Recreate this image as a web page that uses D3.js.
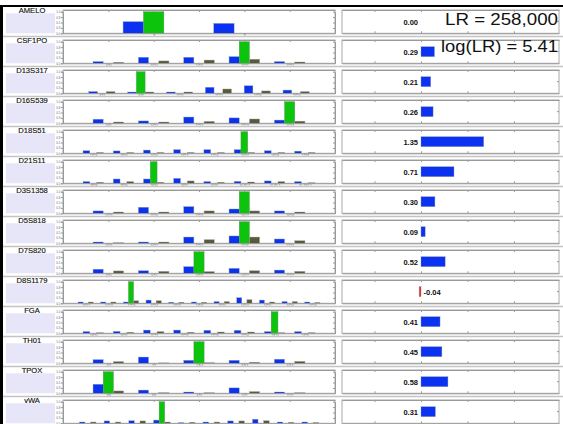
<!DOCTYPE html>
<html>
<head>
<meta charset="utf-8">
<script src="https://cdn.jsdelivr.net/npm/d3@7"></script>
<style>
  body { margin: 0; background: #fff; }
  svg { display: block; font-family: "Liberation Sans", Arial, sans-serif; }
  .tiny text { font-size: 3px; fill: #666; }
  .tiny path, .tiny line { stroke: #999; }
  .noLab text { display: none; }
  .noLab path, .noLab line { stroke: #999; }
</style>
</head>
<body>
<svg id="svg" width="563" height="424"></svg>
<script>
const loci = ["AMELO", "CSF1PO", "D13S317", "D16S539", "D18S51", "D21S11", "D3S1358",
  "D5S818", "D7S820", "D8S1179", "FGA", "TH01", "TPOX", "vWA"];

const alleleLabels = [
  ["X", "Y"],
  ["9,10", "10,10", "10,11", "11,12", "12,12"],
  ["8,11", "9,11", "11,11", "11,12", "12,13", "12,14"],
  ["9,11", "10,11", "11,12", "12,13", "11,13"],
  ["13,14", "13,15", "14,16", "14,17", "15,16", "15,17", "16,18", "17,18"],
  ["28,29", "28,30", "29,30", "29,31", "30,31", "30,32.2", "31,32.2", "31.2,32.2"],
  ["14,15", "15,16", "15,17", "16,17", "16,18"],
  ["10,11", "10,12", "11,12", "11,13", "12,13"],
  ["8,10", "9,10", "10,11", "10,12", "11,12"],
  ["10,12", "10,13", "12,13", "12,14", "13,13", "13,14", "13,15", "14,14", "14,15", "14,16", "15,16"],
  ["19,20", "20,21", "21,22", "21,23", "22,23", "22,24", "23,24", "24,25"],
  ["6,7", "7,7", "7,9.3", "8,9.3", "9,9.3"],
  ["8,8", "8,9", "8,11", "9,11", "11,11"],
  ["14,16", "15,16", "15,17", "16,17", "16,18", "17,17", "17,18", "17,19", "18,18", "18,19"]
];

// posterior (blue) and prior (olive) genotype probabilities
const posterior = [
  [0.54, 0.46],
  [0.08, 0.28, 0.28, 0.31, 0.08],
  [0.08, 0.06, 0.06, 0.28, 0.35, 0.15],
  [0.19, 0.11, 0.29, 0.25, 0.15],
  [0.12, 0.11, 0.15, 0.17, 0.17, 0.17, 0.12, 0.10],
  [0.08, 0.20, 0.20, 0.23, 0.08, 0.09, 0.11, 0.08],
  [0.11, 0.28, 0.31, 0.20, 0.11],
  [0.06, 0.06, 0.29, 0.34, 0.20],
  [0.19, 0.12, 0.31, 0.23, 0.15],
  [0.06, 0.06, 0.06, 0.15, 0.05, 0.06, 0.08, 0.26, 0.15, 0.08, 0.06],
  [0.08, 0.09, 0.15, 0.15, 0.14, 0.14, 0.08, 0.08],
  [0.17, 0.29, 0.14, 0.14, 0.19],
  [0.42, 0.15, 0.06, 0.25, 0.06],
  [0.06, 0.11, 0.12, 0.15, 0.03, 0.06, 0.11, 0.19, 0.06, 0.06]
];
const prior = [
  [0, 0],
  [0.05, 0.11, 0.15, 0.19, 0.06],
  [0.08, 0.06, 0.06, 0.20, 0.11, 0.08],
  [0.06, 0.06, 0.09, 0.20, 0.10],
  [0.04, 0.04, 0.04, 0.04, 0.04, 0.04, 0.04, 0.04],
  [0.05, 0.08, 0.05, 0.11, 0.05, 0.06, 0.08, 0.03],
  [0.06, 0.06, 0.11, 0.11, 0.06],
  [0.03, 0.06, 0.17, 0.29, 0.12],
  [0.11, 0.09, 0.08, 0.12, 0.09],
  [0.06, 0.06, 0.12, 0.12, 0.05, 0.05, 0.08, 0.17, 0.06, 0.08, 0.04],
  [0.03, 0.05, 0.08, 0.05, 0.06, 0.06, 0.03, 0.03],
  [0.08, 0.02, 0.03, 0.05, 0.09],
  [0.11, 0.03, 0.03, 0.08, 0.03],
  [0.06, 0.06, 0.11, 0.06, 0.05, 0.06, 0.11, 0.12, 0.05, 0.04]
];
// index of the suspect genotype (green, probability 1)
const suspect = [0, 3, 1, 4, 5, 2, 3, 3, 2, 2, 6, 2, 0, 3];

const logLR = [0.00, 0.29, 0.21, 0.26, 1.35, 0.71, 0.30, 0.09, 0.52, -0.04, 0.41, 0.45, 0.58, 0.31];
const totalText = ["LR = 258,000", "log(LR) = 5.41"];

const W = 563, H = 424,
    top0 = 10, pitch = 30, ph = 23.3,
    lx0 = 63, lx1 = 335,
    rx = d3.scaleLinear().domain([-1.7, 2.97]).range([342, 559]);

const svg = d3.select("#svg");

loci.forEach(function (name, i) {
  const t = top0 + pitch * i,
      n = alleleLabels[i].length,
      x = d3.scaleLinear().domain([0, n + 1]).range([lx0, lx1]),
      y = d3.scaleLinear().domain([0, 1]).range([t + ph, t + 1.7]),
      bw = 0.225 * (x(1) - x(0));

  if (i > 0) {
    svg.append("line").attr("x1", 3).attr("x2", W).attr("y1", t - 3.5).attr("y2", t - 3.5)
      .style("stroke", "#c4c4c4").style("stroke-width", 1.5);
  }

  // label box
  svg.append("rect").attr("x", 6).attr("y", t + 3.3).attr("width", 49).attr("height", ph - 3.3)
    .attr("fill", "#e6e6f8");
  svg.append("text").attr("x", 32).attr("y", t + 3.2).attr("text-anchor", "middle")
    .style("font-size", "7.6px").style("fill", "#111").style("stroke", "#111").style("stroke-width", 0.15)
    .text(name);

  // genotype panel
  const g = svg.append("g");
  g.append("rect").attr("x", lx0).attr("y", t).attr("width", lx1 - lx0).attr("height", ph)
    .attr("fill", "#fff").style("stroke", "#aaa").style("stroke-width", 1);

  const bars = alleleLabels[i].map(function (d, k) {
    return { k: k + 1, post: posterior[i][k], pri: prior[i][k], sus: k === suspect[i] ? 1 : 0 };
  });
  g.selectAll(".post").data(bars).join("rect")
    .attr("x", d => x(d.k) - 1.5 * bw).attr("width", bw)
    .attr("y", d => y(d.post)).attr("height", d => y(0) - y(d.post))
    .attr("fill", "#0a32f0").style("stroke", "#9aa").style("stroke-width", 0.4);
  g.selectAll(".sus").data(bars.filter(d => d.sus > 0)).join("rect")
    .attr("x", d => x(d.k) - 0.5 * bw).attr("width", bw)
    .attr("y", d => y(d.sus)).attr("height", d => y(0) - y(d.sus))
    .attr("fill", "#0cc40c").style("stroke", "#686").style("stroke-width", 0.4);
  g.selectAll(".pri").data(bars.filter(d => d.pri > 0)).join("rect")
    .attr("x", d => x(d.k) + 0.5 * bw).attr("width", bw)
    .attr("y", d => y(d.pri)).attr("height", d => y(0) - y(d.pri))
    .attr("fill", "#5a593b").style("stroke", "#aaa").style("stroke-width", 0.4);

  g.append("g").attr("class", "tiny").attr("transform", "translate(" + lx0 + ",0)")
    .call(d3.axisLeft(y).tickValues([0, 0.25, 0.5, 0.75, 1]).tickSize(2).tickPadding(0.5));
  g.append("g").attr("class", "noLab").attr("transform", "translate(" + lx1 + ",0)")
    .call(d3.axisRight(y).tickValues([0.25, 0.5, 0.75, 1]).tickSizeInner(-2).tickSizeOuter(0));
  const xt = d3.scaleLinear().domain([0, 6]).range([lx0, lx1]);
  g.append("g").attr("class", "noLab").attr("transform", "translate(0," + t + ")")
    .call(d3.axisTop(xt).tickValues([1, 2, 3, 4, 5]).tickSizeInner(-2).tickSizeOuter(0));
  // the last row's allele labels fall below the picture edge
  const lastRow = i === loci.length - 1;
  g.append("g").attr("class", lastRow ? "noLab" : "tiny").attr("transform", "translate(0," + (t + ph) + ")")
    .call(d3.axisBottom(x).tickValues(d3.range(1, n + 1)).tickSizeInner(1.5).tickSizeOuter(0)
      .tickPadding(0.5).tickFormat(k => alleleLabels[i][k - 1]));

  // log LR panel
  const r = svg.append("g");
  r.append("rect").attr("x", rx.range()[0]).attr("y", t).attr("width", rx.range()[1] - rx.range()[0])
    .attr("height", ph).attr("fill", "#fff").style("stroke", "#aaa").style("stroke-width", 1);
  r.append("g").attr("class", "noLab").attr("transform", "translate(0," + t + ")")
    .call(d3.axisTop(rx).tickValues([-1, 0, 1, 2]).tickSizeInner(-2).tickSizeOuter(0));
  r.append("g").attr("class", "noLab").attr("transform", "translate(0," + (t + ph) + ")")
    .call(d3.axisBottom(rx).tickValues([-1, 0, 1, 2]).tickSizeInner(-2).tickSizeOuter(0));
  r.append("line").attr("x1", rx.range()[1] - 2).attr("x2", rx.range()[1])
    .attr("y1", t + ph / 2).attr("y2", t + ph / 2).style("stroke", "#999");

  const v = logLR[i];
  if (v !== 0) {
    r.append("rect").attr("x", rx(Math.min(0, v))).attr("width", Math.abs(rx(v) - rx(0)))
      .attr("y", t + 6.7).attr("height", 10)
      .attr("fill", v > 0 ? "#0a32f0" : "#e8230c").style("stroke", "#99a").style("stroke-width", 0.4);
  }
  r.append("text").attr("x", v < 0 ? rx(0) + 2.5 : rx(0) - 3).attr("y", t + 14.5)
    .attr("text-anchor", v < 0 ? "start" : "end")
    .style("font-size", "7.5px").style("font-weight", "bold").style("fill", "#111")
    .text(v.toFixed(2));
});

// frame
svg.append("rect").attr("x", 0).attr("y", 5).attr("width", W).attr("height", 2).attr("fill", "#000");
svg.append("rect").attr("x", 0).attr("y", 5).attr("width", 3).attr("height", H - 5).attr("fill", "#000");

// total LR
svg.append("text").attr("x", 558).attr("y", 25).attr("text-anchor", "end")
  .attr("textLength", 113).attr("lengthAdjust", "spacingAndGlyphs")
  .style("font-size", "17px").style("fill", "#111").text(totalText[0]);
svg.append("text").attr("x", 558).attr("y", 52).attr("text-anchor", "end")
  .attr("textLength", 117).attr("lengthAdjust", "spacingAndGlyphs")
  .style("font-size", "17px").style("fill", "#111").text(totalText[1]);
</script>
</body>
</html>
